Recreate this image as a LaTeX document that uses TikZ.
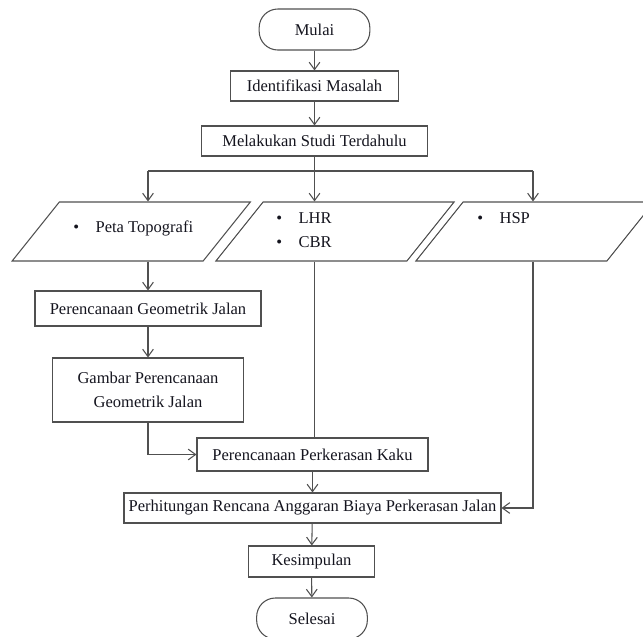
\documentclass[tikz,border=0pt]{standalone}
\usepackage{fontspec}
\setmainfont{Liberation Serif}
\usepackage{xcolor}
\usetikzlibrary{arrows.meta}
\definecolor{flowline}{RGB}{80, 80, 80}
\definecolor{flowtext}{RGB}{20, 20, 30}

\begin{document}
\begin{tikzpicture}[
    x=0.75pt, y=-0.75pt,
    every node/.style={font=\fontsize{12.4}{18}\selectfont, text=flowtext},
    proc/.style={rectangle, draw=flowline, line width=0.8pt, minimum width=#1, minimum height=22.5pt, inner sep=2pt, align=center},
    term/.style={rectangle, rounded corners=14pt, draw=flowline, line width=0.8pt, minimum width=83pt, minimum height=30.75pt},
    data/.style={rectangle, draw=flowline, line width=0.8pt, xslant=0.8, minimum width=143.25pt, minimum height=44.25pt},
    bullets/.style={align=left, inner sep=0pt, anchor=west},
    arr/.style={-{Straight Barb[length=5.5pt, width=8pt]}, draw=flowline, line width=0.8pt},
    link/.style={draw=flowline, line width=0.8pt}
]
\useasboundingbox (0, 0) rectangle (643, 636);

% Main steps
\node[term] (mulai) at (314.5, 29.5) {Mulai};
\node[proc=126pt] (ident) at (314.5, 86) {Identifikasi Masalah};
\node[proc=169.5pt] (studi) at (314.5, 141) {Melakukan Studi Terdahulu};

% Data
\node[data] (p1) at (131.25, 231.5) {};
\node[data] (p2) at (335, 231.5) {};
\node[data] (p3) at (535, 231.5) {};
\node[bullets] (t1) at (73, 228) {\textbullet\hspace{1em}Peta Topografi};
\node[bullets] (t2) at (276, 230) {\textbullet\hspace{1em}LHR\\\textbullet\hspace{1em}CBR};
\node[bullets] (t3) at (477, 218) {\textbullet\hspace{1em}HSP};

% Geometric branch
\node[proc=169.5pt, minimum height=26.25pt] (geo) at (148, 308.5) {Perencanaan Geometrik Jalan};
\node[proc=143.25pt, minimum height=48pt] (gambar) at (148, 390) {Gambar Perencanaan\\Geometrik Jalan};

% Lower steps
\node[proc=173.25pt, minimum height=24.75pt] (kaku) at (312.5, 454.5) {Perencanaan Perkerasan Kaku};
\node[proc=282.75pt] (hitung) at (312.5, 508) {Perhitungan Rencana Anggaran Biaya Perkerasan Jalan};
\node[proc=94.5pt, minimum height=23.25pt] (simpul) at (311.5, 561.5) {Kesimpulan};
\node[term] (selesai) at (312, 618.5) {Selesai};

% Connectors
\coordinate (b1) at (148, 171);
\coordinate (b2) at (314.5, 171);
\coordinate (b3) at (533, 171);

\draw[arr] (mulai) -- (ident);
\draw[arr] (ident) -- (studi);
\draw[link] (studi) -- (b2);
\draw[link] (b1) -- (b3);
\draw[arr] (b1) -- (b1 |- p1.north);
\draw[arr] (b2) -- (b2 |- p2.north);
\draw[arr] (b3) -- (b3 |- p3.north);

\draw[arr] (b1 |- p1.south) -- (geo);
\draw[arr] (geo) -- (gambar);
\draw[arr] (gambar.south) |- (kaku.west);
\draw[link] (b2 |- p2.south) -- (b2 |- kaku.north);
\draw[arr] (kaku) -- (hitung);
\draw[arr] (b3 |- p3.south) |- (hitung.east);
\draw[arr] (hitung) -- (simpul);
\draw[arr] (simpul) -- (selesai);

\end{tikzpicture}
\end{document}
